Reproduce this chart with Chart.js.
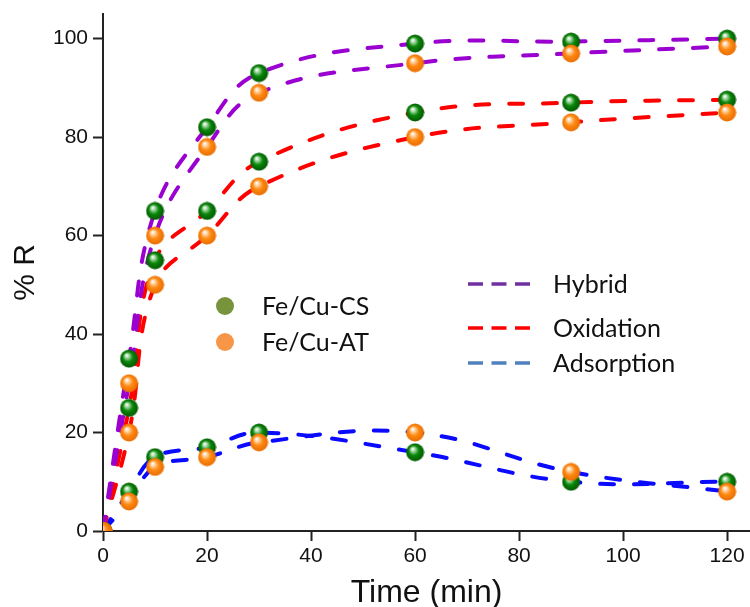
<!DOCTYPE html>
<html>
<head>
<meta charset="utf-8">
<title>% R vs time</title>
<script src="https://cdn.jsdelivr.net/npm/chart.js@4/dist/chart.umd.min.js"></script>
<style>
  html, body { margin: 0; padding: 0; background: #ffffff; }
</style>
</head>
<body>
<canvas id="removalChart" width="750" height="607"></canvas>
<script>
// sampling times (min)
const times = [0, 5, 10, 20, 30, 60, 90, 120];

// % removal
const csHybrid     = [0, 35, 65, 82, 93, 99, 99.4, 100];
const atHybrid     = [0, 30, 60, 78, 89, 95, 97, 98.4];
const csOxidation  = [0, 25, 55, 65, 75, 85, 87, 87.6];
const atOxidation  = [0, 20, 50, 60, 70, 80, 83, 85];
const csAdsorption = [0, 8, 15, 17, 20, 16, 10, 10];
const atAdsorption = [0, 6, 13, 15, 18, 20, 12, 8];

const catalystNames = ['Fe/Cu-CS', 'Fe/Cu-AT'];
const processNames = ['Hybrid', 'Oxidation', 'Adsorption'];

const xTicks = [0, 20, 40, 60, 80, 100, 120];
const yTicks = [0, 20, 40, 60, 80, 100];

const lineColors = ['#9a00d0', '#ff0000', '#0a0aff'];
const legendLineColors = ['#7030a0', '#ff0000', '#4f81bd'];
const legendDotColors = ['#77933c', '#f79646'];

function toPoints(values) {
    return times.map((t, i) => ({ x: t, y: values[i] }));
}

// little shaded ball used as the marker
function makeSphere(base, dark, light) {
    const c = document.createElement('canvas');
    c.width = 19;
    c.height = 19;
    const g = c.getContext('2d');
    const grad = g.createRadialGradient(7, 6, 0.4, 9.5, 9.5, 9.5);
    grad.addColorStop(0, '#ffffff');
    grad.addColorStop(0.2, light);
    grad.addColorStop(0.5, base);
    grad.addColorStop(1, dark);
    g.fillStyle = grad;
    g.beginPath();
    g.arc(9.5, 9.5, 9, 0, Math.PI * 2);
    g.fill();
    return c;
}

const greenBall = makeSphere('#0b870b', '#005400', '#9fd89f');
const orangeBall = makeSphere('#ff8a12', '#e66a00', '#ffd2a0');

function curve(values, color) {
    return {
        data: toPoints(values),
        borderColor: color,
        borderWidth: 4,
        borderDash: [14, 20],
        borderCapStyle: 'round',
        tension: 0.4,
        pointRadius: 0,
        fill: false,
        order: 2
    };
}

function markers(values, ball, order) {
    return {
        data: toPoints(values),
        showLine: false,
        pointStyle: ball,
        pointRadius: 9,
        order: order
    };
}

const datasets = [
    curve(csHybrid, lineColors[0]),
    curve(atHybrid, lineColors[0]),
    curve(csOxidation, lineColors[1]),
    curve(atOxidation, lineColors[1]),
    curve(csAdsorption, lineColors[2]),
    curve(atAdsorption, lineColors[2]),
    markers(csHybrid, greenBall, 1),
    markers(csOxidation, greenBall, 1),
    markers(csAdsorption, greenBall, 1),
    markers(atHybrid, orangeBall, 0),
    markers(atOxidation, orangeBall, 0),
    markers(atAdsorption, orangeBall, 0)
];

// the two keys drawn inside the plot
const keyPlugin = {
    id: 'keys',
    afterDraw(chart) {
        const ctx = chart.ctx;
        ctx.save();
        ctx.font = '25px Lato';
        ctx.fillStyle = '#111111';
        ctx.textBaseline = 'alphabetic';

        catalystNames.forEach((name, i) => {
            const cy = 306 + i * 36;
            ctx.beginPath();
            ctx.fillStyle = legendDotColors[i];
            ctx.arc(225, cy, 9, 0, Math.PI * 2);
            ctx.fill();
            ctx.fillStyle = '#111111';
            ctx.fillText(name, 262, cy + 9);
        });

        const rows = [284, 328, 363];
        processNames.forEach((name, i) => {
            ctx.strokeStyle = legendLineColors[i];
            ctx.lineWidth = 3.5;
            ctx.setLineDash([15, 8.5]);
            ctx.beginPath();
            ctx.moveTo(468, rows[i]);
            ctx.lineTo(531, rows[i]);
            ctx.stroke();
            ctx.fillText(name, 553, rows[i] + 9);
        });
        ctx.restore();
    }
};

const axisColor = '#222222';

new Chart(document.getElementById('removalChart'), {
    type: 'line',
    data: { datasets: datasets },
    plugins: [keyPlugin],
    options: {
        responsive: false,
        animation: false,
        layout: { autoPadding: false, padding: { top: 14, right: 0, left: 0, bottom: 0 } },
        plugins: {
            legend: { display: false },
            tooltip: { enabled: false }
        },
        scales: {
            x: {
                type: 'linear',
                min: 0,
                max: 124.4,
                afterBuildTicks: (scale) => { scale.ticks = xTicks.map(v => ({ value: v })); },
                afterFit: (scale) => {
                    scale.height = 76;
                    scale.paddingLeft = 0;
                    scale.paddingRight = 0;
                },
                ticks: {
                    font: { family: 'Liberation Sans', size: 21 },
                    color: '#111111',
                    padding: 3,
                    maxRotation: 0
                },
                grid: {
                    drawOnChartArea: false,
                    drawTicks: true,
                    tickLength: 10,
                    tickWidth: 2,
                    tickColor: axisColor
                },
                border: { color: axisColor, width: 2 },
                title: {
                    display: true,
                    text: 'Time (min)',
                    font: { family: 'Liberation Sans', size: 32, lineHeight: 1 },
                    color: '#111111',
                    padding: { top: 0, bottom: -2 }
                }
            },
            y: {
                type: 'linear',
                min: 0,
                max: 105,
                afterBuildTicks: (scale) => { scale.ticks = yTicks.map(v => ({ value: v })); },
                afterFit: (scale) => {
                    scale.width = 103;
                    scale.paddingTop = 0;
                    scale.paddingBottom = 0;
                },
                ticks: {
                    font: { family: 'Liberation Sans', size: 21 },
                    color: '#111111',
                    padding: 5
                },
                grid: {
                    drawOnChartArea: false,
                    drawTicks: true,
                    tickLength: 10,
                    tickWidth: 2,
                    tickColor: axisColor
                },
                border: { color: axisColor, width: 2 },
                title: {
                    display: true,
                    text: '% R',
                    font: { family: 'Liberation Sans', size: 30, lineHeight: 1 },
                    color: '#111111',
                    padding: { top: 11, bottom: 0 }
                }
            }
        }
    }
});
</script>
</body>
</html>
